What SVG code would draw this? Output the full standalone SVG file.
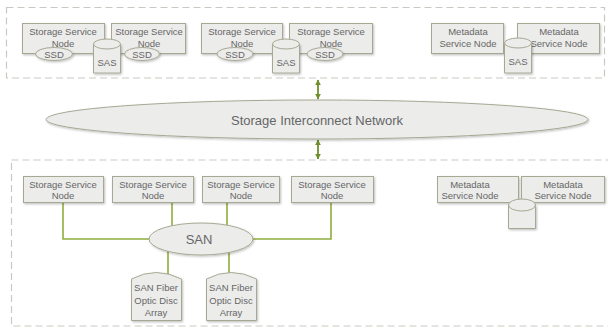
<svg xmlns="http://www.w3.org/2000/svg" width="608" height="332" viewBox="0 0 608 332">
  <style>
    .zone { fill: none; stroke: #c9c9c4; stroke-width: 1.2; stroke-dasharray: 7 4; }
    .box { fill: #ececeb; stroke: #a7a894; stroke-width: 1; }
    .shape { fill: #ececeb; stroke: #a7a894; stroke-width: 1; }
    .lbl { font-family: "Liberation Sans", Arial, sans-serif; font-size: 9.5px; fill: #666666; text-anchor: middle; dominant-baseline: central; }
    .big { font-size: 13px; }
    .wire { fill: none; stroke: #8fae3e; stroke-width: 1.6; }
    .arrow { fill: none; stroke: #6f8f2a; stroke-width: 1.8; marker-start: url(#ah); marker-end: url(#ah); }
  </style>
  <defs>
    <filter id="sh" x="-10%" y="-20%" width="130%" height="160%">
      <feDropShadow dx="1" dy="1.2" stdDeviation="0.9" flood-color="#000" flood-opacity="0.25"/>
    </filter>
    <marker id="ah" viewBox="0 0 10 10" refX="9" refY="5" markerWidth="6" markerHeight="6" orient="auto-start-reverse" markerUnits="userSpaceOnUse">
      <path d="M0,0 L10,5 L0,10 z" fill="#6f8f2a"/>
    </marker>
  </defs>

  <!-- dashed zones -->
  <rect class="zone" x="6.5" y="7.5" width="598" height="70.5"/>
  <rect class="zone" x="11.5" y="160" width="620" height="166"/>

  <!-- connectors -->
  <g id="connectors">
    <path class="arrow" d="M318,80 V99"/>
    <path class="arrow" d="M318,140 V159"/>
    <path class="wire" d="M63,202 V239 H150"/>
    <path class="wire" d="M172,202 V226"/>
    <path class="wire" d="M227,203 V225"/>
    <path class="wire" d="M331,202 V239 H253"/>
    <path class="wire" d="M168,251 V276"/>
    <path class="wire" d="M229,252 V276"/>
  </g>

  <!-- upper tier: storage pair 1 -->
  <g id="ssn1">
    <rect class="box" filter="url(#sh)" x="22.5" y="23.5" width="82" height="30"/>
    <text class="lbl" x="63" y="31">Storage Service</text>
    <text class="lbl" x="63" y="43">Node</text>
  </g>
  <g id="ssn2">
    <rect class="box" filter="url(#sh)" x="111.5" y="23.5" width="74" height="30"/>
    <text class="lbl" x="149" y="31">Storage Service</text>
    <text class="lbl" x="149" y="43">Node</text>
  </g>
  <g id="ssd1">
    <ellipse class="shape" filter="url(#sh)" cx="54" cy="54" rx="18.5" ry="6.5"/>
    <text class="lbl" x="54" y="54">SSD</text>
  </g>
  <g id="ssd2">
    <ellipse class="shape" filter="url(#sh)" cx="142" cy="54" rx="17.5" ry="6.5"/>
    <text class="lbl" x="142" y="54">SSD</text>
  </g>
  <g id="sas1">
    <path class="shape" filter="url(#sh)" d="M93.5,44 V73 H120.5 V44"/>
    <ellipse class="shape" cx="107" cy="44" rx="13.5" ry="5"/>
    <text class="lbl" x="107" y="62">SAS</text>
  </g>

  <!-- upper tier: storage pair 2 -->
  <g id="ssn3">
    <rect class="box" filter="url(#sh)" x="201.5" y="23.5" width="81" height="30"/>
    <text class="lbl" x="242" y="31">Storage Service</text>
    <text class="lbl" x="242" y="43">Node</text>
  </g>
  <g id="ssn4">
    <rect class="box" filter="url(#sh)" x="289.5" y="23.5" width="83" height="30"/>
    <text class="lbl" x="331" y="31">Storage Service</text>
    <text class="lbl" x="331" y="43">Node</text>
  </g>
  <g id="ssd3">
    <ellipse class="shape" filter="url(#sh)" cx="235" cy="54" rx="18" ry="6.5"/>
    <text class="lbl" x="235" y="54">SSD</text>
  </g>
  <g id="ssd4">
    <ellipse class="shape" filter="url(#sh)" cx="325" cy="54" rx="18" ry="6.5"/>
    <text class="lbl" x="325" y="54">SSD</text>
  </g>
  <g id="sas2">
    <path class="shape" filter="url(#sh)" d="M272.5,44 V73 H299.5 V44"/>
    <ellipse class="shape" cx="286" cy="44" rx="13.5" ry="5"/>
    <text class="lbl" x="286" y="62">SAS</text>
  </g>

  <!-- upper tier: metadata pair -->
  <g id="msn1">
    <rect class="box" filter="url(#sh)" x="431.5" y="23.5" width="72" height="30"/>
    <text class="lbl" x="468" y="31">Metadata</text>
    <text class="lbl" x="468" y="43">Service Node</text>
  </g>
  <g id="msn2">
    <rect class="box" filter="url(#sh)" x="517.5" y="23.5" width="82" height="30"/>
    <text class="lbl" x="559" y="31">Metadata</text>
    <text class="lbl" x="559" y="43">Service Node</text>
  </g>
  <g id="sas3">
    <path class="shape" filter="url(#sh)" d="M504.5,43 V73 H531.5 V43"/>
    <ellipse class="shape" cx="518" cy="43" rx="13.5" ry="5"/>
    <text class="lbl" x="518" y="61">SAS</text>
  </g>

  <!-- interconnect -->
  <g id="network">
    <ellipse class="shape" filter="url(#sh)" cx="317" cy="119.5" rx="271" ry="19.5"/>
    <text class="lbl big" x="317" y="120">Storage Interconnect Network</text>
  </g>

  <!-- lower tier: storage nodes on SAN -->
  <g id="ssn5">
    <rect class="box" filter="url(#sh)" x="23.5" y="176.5" width="80" height="26"/>
    <text class="lbl" x="63" y="184">Storage Service</text>
    <text class="lbl" x="63" y="195">Node</text>
  </g>
  <g id="ssn6">
    <rect class="box" filter="url(#sh)" x="112.5" y="176.5" width="81" height="26"/>
    <text class="lbl" x="153" y="184">Storage Service</text>
    <text class="lbl" x="153" y="195">Node</text>
  </g>
  <g id="ssn7">
    <rect class="box" filter="url(#sh)" x="202.5" y="176.5" width="77" height="26"/>
    <text class="lbl" x="241" y="184">Storage Service</text>
    <text class="lbl" x="241" y="195">Node</text>
  </g>
  <g id="ssn8">
    <rect class="box" filter="url(#sh)" x="291.5" y="176.5" width="82" height="26"/>
    <text class="lbl" x="332" y="184">Storage Service</text>
    <text class="lbl" x="332" y="195">Node</text>
  </g>
  <g id="san">
    <ellipse class="shape" filter="url(#sh)" cx="201" cy="239" rx="52" ry="16"/>
    <text class="lbl big" x="199" y="239">SAN</text>
  </g>
  <g id="array1">
    <path class="shape" filter="url(#sh)" d="M131.5,320.5 V279 Q156,266 181.5,279 V320.5 Z"/>
    <text class="lbl" x="156" y="287">SAN Fiber</text>
    <text class="lbl" x="156" y="300">Optic Disc</text>
    <text class="lbl" x="156" y="312">Array</text>
  </g>
  <g id="array2">
    <path class="shape" filter="url(#sh)" d="M206.5,320.5 V279 Q231,266 256.5,279 V320.5 Z"/>
    <text class="lbl" x="231" y="287">SAN Fiber</text>
    <text class="lbl" x="231" y="300">Optic Disc</text>
    <text class="lbl" x="231" y="312">Array</text>
  </g>

  <!-- lower tier: metadata pair -->
  <g id="msn3">
    <rect class="box" filter="url(#sh)" x="437.5" y="176.5" width="81" height="26"/>
    <text class="lbl" x="470" y="184">Metadata</text>
    <text class="lbl" x="470" y="195">Service Node</text>
  </g>
  <g id="msn4">
    <rect class="box" filter="url(#sh)" x="521.5" y="176.5" width="83" height="26"/>
    <text class="lbl" x="563" y="184">Metadata</text>
    <text class="lbl" x="563" y="195">Service Node</text>
  </g>
  <g id="disk">
    <path class="shape" filter="url(#sh)" d="M508.5,205 V228.5 H535.5 V205"/>
    <ellipse class="shape" cx="522" cy="205" rx="13.5" ry="6"/>
  </g>
</svg>
